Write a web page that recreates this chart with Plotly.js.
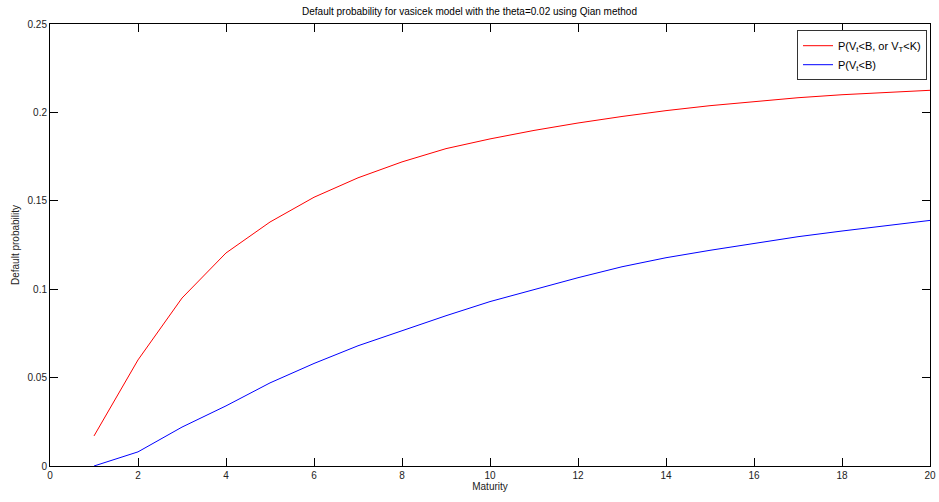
<!DOCTYPE html>
<html>
<head>
<meta charset="utf-8">
<script src="https://cdn.plot.ly/plotly-3.0.1.min.js"></script>
<style>html,body{margin:0;padding:0;background:#fff;}#chart{width:939px;height:502px;}</style>
</head>
<body>
<div id="chart"></div>
<script>
const maturity = [1,2,3,4,5,6,7,8,9,10,11,12,13,14,15,16,17,18,19,20];
const probBorK = [0.017,0.060,0.095,0.1205,0.138,0.152,0.163,0.172,0.1795,0.185,0.1898,0.194,0.1977,0.201,0.2038,0.2062,0.2083,0.21,0.2114,0.2125];
const probB = [0.0,0.008,0.022,0.034,0.047,0.058,0.068,0.0765,0.085,0.093,0.0997,0.1065,0.1127,0.1178,0.122,0.1259,0.1297,0.1329,0.1359,0.1389];
const xTicks = [0,2,4,6,8,10,12,14,16,18,20];
const yTicks = [0,0.05,0.1,0.15,0.2,0.25];
const yTickText = ['0','0.05','0.1','0.15','0.2','0.25'];

const font = {family: 'Liberation Sans, Arial, sans-serif', size: 10, color: '#222'};

const traces = [
  {x: maturity, y: probBorK, type: 'scatter', mode: 'lines', name: 'P(V<sub>t</sub>&lt;B, or V<sub>T</sub>&lt;K)', line: {color: '#ff0000', width: 1}},
  {x: maturity, y: probB, type: 'scatter', mode: 'lines', name: 'P(V<sub>t</sub>&lt;B)', line: {color: '#0000ff', width: 1}}
];

const axisCommon = {
  showline: true, linecolor: '#000', linewidth: 1, mirror: 'ticks',
  ticks: 'inside', ticklen: 8, tickcolor: '#000', tickwidth: 1,
  showgrid: false, zeroline: false, tickfont: font
};

const layout = {
  width: 939, height: 502,
  margin: {l: 50, r: 9, t: 24, b: 36},
  paper_bgcolor: '#fff', plot_bgcolor: '#fff',
  font: font,
  title: {text: 'Default probability for vasicek model with the theta=0.02 using Qian method', font: {family: font.family, size: 10, color: '#000'}, x: 0.5, xanchor: 'center', y: 0.985, yanchor: 'top'},
  xaxis: Object.assign({}, axisCommon, {range: [0, 20], tickvals: xTicks, ticktext: xTicks.map(String), title: {text: 'Maturity', font: font, standoff: 2}}),
  yaxis: Object.assign({}, axisCommon, {range: [0, 0.25], tickvals: yTicks, ticktext: yTickText, title: {text: 'Default probability', font: font, standoff: 6}}),
  showlegend: true,
  legend: {x: 0.9966, xanchor: 'right', y: 0.986, yanchor: 'top', bgcolor: '#fff', bordercolor: '#333', borderwidth: 1, font: {family: font.family, size: 11, color: '#000'}, tracegroupgap: 0}
};

Plotly.newPlot('chart', traces, layout, {displayModeBar: false, staticPlot: true});
</script>
</body>
</html>
